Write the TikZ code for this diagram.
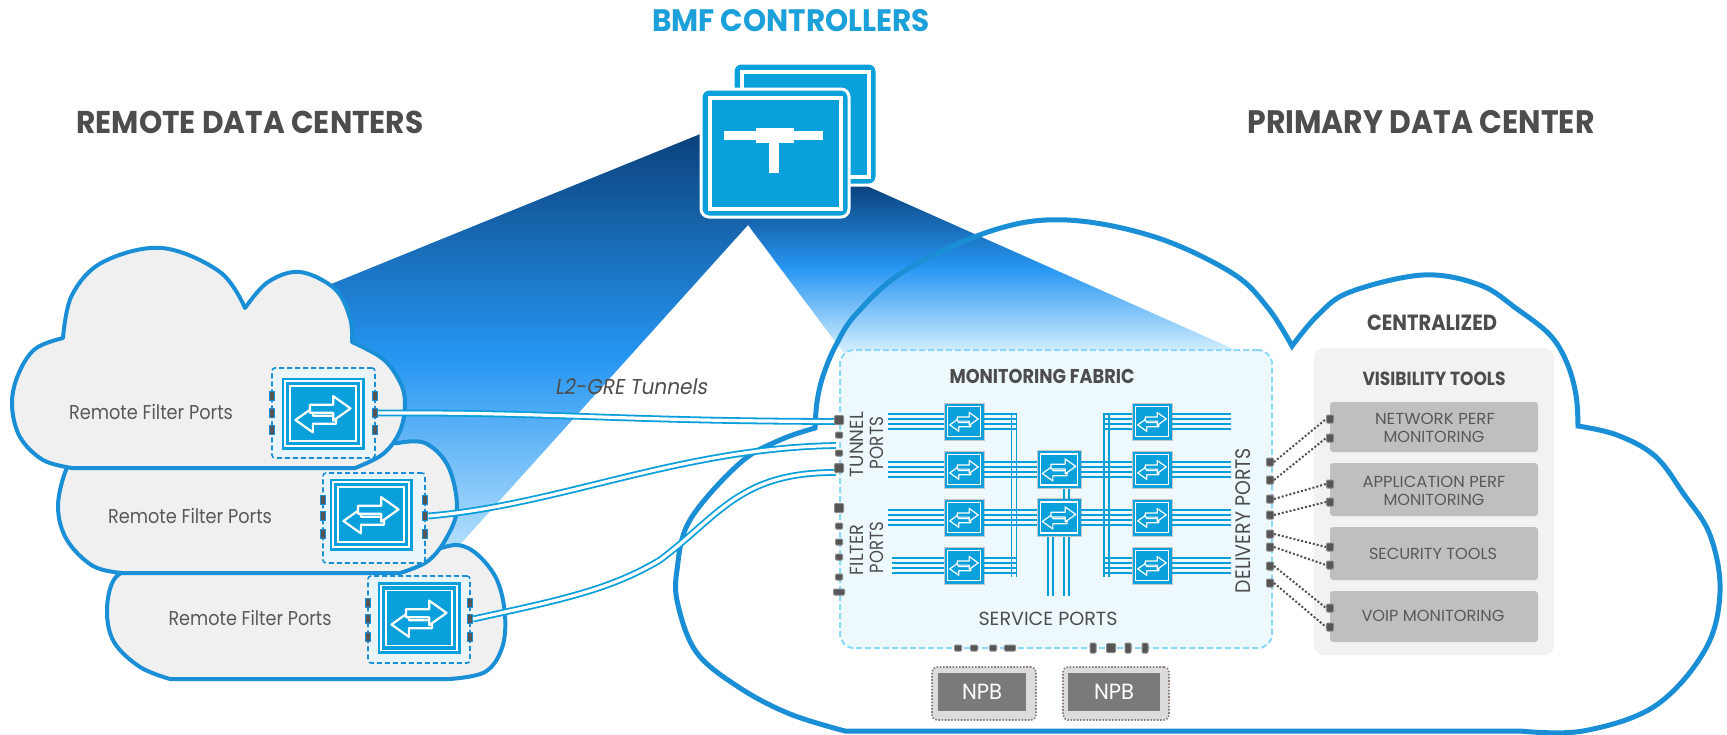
\documentclass[tikz,border=0pt]{standalone}
\usepackage{fontspec}
\setmainfont{Poppins}
\newfontfamily\slfont[FakeSlant=0.18]{Poppins}
\usepackage{graphicx}
\usetikzlibrary{calc}

\definecolor{cblue}{HTML}{1A8FD6}
\definecolor{sblue}{HTML}{0AA0DC}
\definecolor{lblue}{HTML}{0A9FDB}
\definecolor{bmfblue}{HTML}{1CA0DA}
\definecolor{headtxt}{HTML}{4D4D4D}
\definecolor{bodytxt}{HTML}{595959}
\definecolor{rfill}{HTML}{F0F0F0}
\definecolor{dfill}{HTML}{EAF5FB}
\definecolor{fabfill}{HTML}{EEF9FE}
\definecolor{fabline}{HTML}{8CD8F6}
\definecolor{portfill}{HTML}{555555}
\definecolor{portrim}{HTML}{8A8A8A}
\definecolor{panelfill}{HTML}{F2F2F2}
\definecolor{toolfill}{HTML}{BFBFBF}
\definecolor{npbin}{HTML}{7A7A7A}
\definecolor{npbout}{HTML}{DCDCDC}
\definecolor{npbdot}{HTML}{8C7E76}
\definecolor{dotline}{HTML}{505050}
\definecolor{beamtop}{HTML}{0A3F78}
\definecolor{beammid}{HTML}{2696F2}
\definecolor{beambot}{HTML}{D4EFFF}
\definecolor{swrim}{HTML}{C8C8C8}

% set a text at a given size, stretched or squeezed to a given width
\newsavebox\fitbx
\newlength\fitlen
\newcommand\fitto[3]{%
  \sbox\fitbx{\fontsize{#2}{#2}\selectfont #3}%
  \fitlen=\wd\fitbx
  \pgfmathsetmacro\fitsx{#1/\fitlen}%
  \scalebox{\fitsx}[1]{\usebox\fitbx}}

\tikzset{
  pics/arrowpair/.style={code={
    % lower arrow, pointing left
    \draw[white, fill=sblue, line join=round] (9,1.5) -- (-7,1.5) -- (-7,-4) -- (-19,4.5) -- (-7,13) -- (-7,7) -- (9,7) -- cycle;
    % upper arrow, pointing right
    \draw[white, fill=sblue, line join=round] (-9,-6) -- (7,-6) -- (7,-12) -- (19,-3.5) -- (7,5) -- (7,-0.5) -- (-9,-0.5) -- cycle;
  }},
  cloudR/.style={fill=rfill, draw=cblue, line width=4pt, line join=round},
  bigcloud/.style={draw=cblue, line width=5pt, line join=miter},
  swbox/.style={rectangle, fill=sblue, draw=swrim, line width=0.8pt, inner sep=0pt, outer sep=0pt},
  rsw/.style={rectangle, fill=sblue, draw=sblue, line width=0.8pt, inner sep=0pt, outer sep=0pt},
  dashbox/.style={rectangle, rounded corners=3pt, fill=dfill, draw=cblue, dash pattern=on 5pt off 3pt, line width=1.6pt, inner sep=0pt},
  rport/.style={rectangle, minimum width=5pt, minimum height=9pt, fill=portfill, draw=cblue, line width=1.2pt, inner sep=0pt},
  pbig/.style={rectangle, minimum width=9pt, minimum height=9pt, fill=portfill, draw=portrim, line width=1pt, rounded corners=1pt, inner sep=0pt},
  psmall/.style={rectangle, minimum width=7pt, minimum height=6pt, fill=portfill, draw=portrim, line width=1pt, rounded corners=1pt, inner sep=0pt},
  pwide/.style={rectangle, minimum width=11pt, minimum height=6pt, fill=portfill, draw=portrim, line width=1pt, rounded corners=1pt, inner sep=0pt},
  ptall/.style={rectangle, minimum width=6pt, minimum height=10pt, fill=portfill, draw=portrim, line width=1pt, rounded corners=1pt, inner sep=0pt},
  dport/.style={rectangle, minimum width=7pt, minimum height=8pt, fill=portfill, draw=portrim, line width=1pt, rounded corners=1pt, inner sep=0pt},
  fl/.style={draw=lblue, line width=1.8pt},
  tunnel/.style={draw=lblue, line width=1.8pt, double=white, double distance=3.2pt},
  lbl/.style={inner sep=0pt, outer sep=0pt, text=headtxt},
  body/.style={inner sep=0pt, outer sep=0pt, text=bodytxt},
  dotcon/.style={draw=dotline, line width=2pt, dash pattern=on 2pt off 2pt},
  fabric/.style={rectangle, rounded corners=14pt, fill=fabfill, draw=fabline, line width=2pt, dash pattern=on 6pt off 3pt},
  ctrl/.style={rectangle, rounded corners=8pt, fill=sblue, draw=white, line width=3pt, inner sep=0pt},
  panelbox/.style={rectangle, rounded corners=10pt, fill=panelfill, inner sep=0pt},
  toolbox/.style={rectangle, rounded corners=3pt, fill=toolfill, minimum width=208pt, inner sep=0pt},
  npbouter/.style={rectangle, rounded corners=5pt, fill=npbout, draw=npbdot, line width=1.6pt, dash pattern=on 1.6pt off 1.6pt, inner sep=0pt},
  npbinner/.style={rectangle, fill=npbin, inner sep=0pt, text=white},
}

% switch of the remote sites
\newcommand\rswitch[3]{%
  \node[rsw, minimum width=82pt, minimum height=71pt] (#1) at (#2,#3) {};
  \draw[white, line width=1.3pt] ([shift={(3,3)}]#1.north west) rectangle ([shift={(-3,-3)}]#1.south east);
  \draw[white, line width=1.3pt] ([shift={(8,8)}]#1.north west) rectangle ([shift={(-8,-8)}]#1.south east);
  \pic[scale=1.45, line width=2.2pt] at (#1) {arrowpair};}

% switch of the monitoring fabric
\newcommand\fswitch[6]{%
  \node[swbox, minimum width=#4pt, minimum height=#5pt] (#1) at (#2,#3) {};
  \draw[white, line width=1.1pt] ([shift={(3.5,3.5)}]#1.north west) rectangle ([shift={(-3.5,-3.5)}]#1.south east);
  \pic[scale=#6, line width=1.2pt] at (#1) {arrowpair};}

\begin{document}
\begin{tikzpicture}[x=1pt, y=-1pt]
\useasboundingbox (0,0) rectangle (1727,734);
\fill[white] (0,0) rectangle (1727,734);

% ---------- light beams from the controllers ----------
\shade[top color=beamtop, bottom color=beambot, middle color=beammid]
  (720,126) -- (250,317) -- (250,590) -- (419,590) -- (748,225) -- (770,190) -- cycle;
\shade[top color=beamtop, bottom color=beambot, middle color=beammid]
  (760,200) -- (748,225) -- (843,352) -- (1240,352) -- (860,183) -- cycle;

% ---------- primary data center cloud ----------
\draw[bigcloud]
  plot[smooth, tension=0.6] coordinates {(815,428) (817,402) (823,376) (836,345) (857,313) (906,270) (994,230) (1067,220) (1155,237) (1232,273) (1268,308) (1292,346)}
  -- plot[smooth, tension=0.6] coordinates {(1292,346) (1318,315) (1350,292) (1423,275) (1480,285) (1517,309) (1550,335) (1567,363) (1576,395) (1578,426)}
  -- plot[smooth, tension=0.6] coordinates {(1578,426) (1617,435) (1655,456) (1683,493) (1710,535) (1720,592) (1705,650) (1655,706) (1583,731) (1520,731)}
  -- (845,731)
  -- plot[smooth, tension=0.6] coordinates {(845,731) (790,714) (740,688) (697,653) (678,605) (677,570) (690,520) (740,463) (780,440) (815,428)}
  -- cycle;

% ---------- remote data center clouds ----------
\path[cloudR]
  plot[smooth, tension=0.6] coordinates {(140,565) (115,578) (107,610) (114,642) (140,667) (170,679)}
  -- (450,679)
  -- plot[smooth, tension=0.6] coordinates {(450,679) (485,672) (502,648) (505,615) (497,580) (478,555) (458,545) (435,550)}
  -- cycle;
\path[cloudR]
  plot[smooth, tension=0.6] coordinates {(80,452) (66,470) (58,507) (67,540) (93,566) (122,573)}
  -- (400,573)
  -- plot[smooth, tension=0.6] coordinates {(400,573) (428,561) (447,537) (457,507) (448,466) (425,443) (398,443)}
  -- cycle;
\path[cloudR]
  plot[smooth, tension=0.6] coordinates {(63,338) (35,349) (18,375) (12,405) (20,437) (43,460) (72,468)}
  -- (355,468)
  -- plot[smooth, tension=0.6] coordinates {(355,468) (383,454) (400,431) (405,403) (400,382) (383,359) (352,342)}
  -- plot[smooth, tension=0.6] coordinates {(352,342) (350,318) (335,289) (300,272) (268,282) (245,308)}
  -- plot[smooth, tension=0.6] coordinates {(245,308) (220,272) (162,248) (103,262) (72,295) (63,338)}
  -- cycle;

% remote filter switches
\node[dashbox, minimum width=103pt, minimum height=90pt] (db1) at (323.5,413) {};
\node[dashbox, minimum width=102pt, minimum height=90pt] (db2) at (374,518) {};
\node[dashbox, minimum width=102pt, minimum height=87pt] (db3) at (419,619.5) {};
\rswitch{sw1}{323}{413.5}
\rswitch{sw2}{371}{514.5}
\rswitch{sw3}{419}{618}
\foreach \k/\y in {1/396, 2/413, 3/430} {
  \node[rport] (r1l\k) at (272,\y) {};
  \node[rport] (r1r\k) at (375,\y) {};}
\foreach \k/\y in {1/500, 2/516, 3/534} {
  \node[rport] (r2l\k) at (323,\y) {};
  \node[rport] (r2r\k) at (425,\y) {};}
\foreach \k/\y in {1/603, 2/619, 3/637} {
  \node[rport] (r3l\k) at (368,\y) {};
  \node[rport] (r3r\k) at (470,\y) {};}

\node[body] (rt1) at (151,412) {\fitto{164}{20}{Remote Filter Ports}};
\node[body] (rt2) at (190,516) {\fitto{164}{20}{Remote Filter Ports}};
\node[body] (rt3) at (250,618) {\fitto{163}{20}{Remote Filter Ports}};

% ---------- monitoring fabric ----------
\node[fabric, minimum width=432pt, minimum height=298pt] (fab) at (1056,499) {};

% L2-GRE tunnels
\coordinate (t2end) at (836,445.5);
\coordinate (t3end) at (836,472.5);
\draw[tunnel] (r1r2.east) .. controls (550,412) and (620,421) .. (836,421.5);
\draw[tunnel] (r2r2.east) .. controls (560,505) and (680,448) .. (t2end);
\draw[tunnel] (r3r2.east) .. controls (560,600) and (610,590) .. (660,560) .. controls (720,515) and (740,472) .. (t3end);
\node[inner sep=0pt, text=headtxt] (gre) at (631,387) {\fitto{152}{21.5}{\slfont L2-GRE Tunnels}};

% fabric switches
\fswitch{L1}{964}{421.5}{40}{37}{0.75}
\fswitch{L2}{964}{469.5}{40}{37}{0.75}
\fswitch{L3}{964}{517.5}{40}{37}{0.75}
\fswitch{L4}{964}{565.5}{40}{37}{0.75}
\fswitch{M2}{1059}{469.5}{44}{38}{0.88}
\fswitch{M3}{1059}{517.5}{44}{38}{0.88}
\fswitch{R1}{1152}{421.5}{40}{37}{0.75}
\fswitch{R2}{1152}{469.5}{40}{37}{0.75}
\fswitch{R3}{1152}{517.5}{40}{37}{0.75}
\fswitch{R4}{1152}{565.5}{40}{37}{0.75}

% link bundles
\coordinate (lbusA) at (1011.5,414);
\coordinate (lbusB) at (1011.5,577);
\coordinate (rbusA) at (1104,414);
\coordinate (rbusB) at (1104,577);
\foreach \dx in {0,5} {
  \draw[fl] ([xshift=\dx pt]lbusA) -- ([xshift=\dx pt]lbusB);
  \draw[fl] ([xshift=\dx pt]rbusA) -- ([xshift=\dx pt]rbusB);}
\foreach \o in {-7.5,-2.5,2.5,7.5} {
  \draw[fl] ([yshift=\o pt]L1.west) -- ++(-56,0);
  \draw[fl] ([yshift=\o pt]L2.west) -- ++(-56,0);
  \draw[fl] ([yshift=\o pt]L3.west) -- ++(-56,0);
  \draw[fl] ([yshift=\o pt]L4.west) -- ++(-52,0);
  \draw[fl] ([yshift=\o pt]L1.east) -- ++(33,0);
  \draw[fl] ([yshift=\o pt]L4.east) -- ++(33,0);
  \draw[fl] ([yshift=\o pt]L2.east) -- ([yshift=\o pt]M2.west);
  \draw[fl] ([yshift=\o pt]L3.east) -- ([yshift=\o pt]M3.west);
  \draw[fl] ([yshift=\o pt]M2.east) -- ([yshift=\o pt]R2.west);
  \draw[fl] ([yshift=\o pt]M3.east) -- ([yshift=\o pt]R3.west);
  \draw[fl] ([yshift=\o pt]R1.west) -- ++(-29,0);
  \draw[fl] ([yshift=\o pt]R4.west) -- ++(-29,0);
  \draw[fl] ([yshift=\o pt]R1.east) -- ++(59,0);
  \draw[fl] ([yshift=\o pt]R2.east) -- ++(59,0);
  \draw[fl] ([yshift=\o pt]R3.east) -- ++(59,0);
  \draw[fl] ([yshift=\o pt]R4.east) -- ++(59,0);}
\foreach \dx in {5,10} \draw[fl] ([xshift=\dx pt]M2.south) -- ([xshift=\dx pt]M3.north);
\foreach \dx in {-11,-6,5,10} \draw[fl] ([xshift=\dx pt]M3.south) -- ++(0,59);

% fabric ports
\foreach \n/\y/\s in {tp1/420/pbig, tp2/435/psmall, tp3/453/psmall, tp4/468/pbig,
    fp1/508/pbig, fp2/526/psmall, fp3/542/psmall, fp4/557/psmall, fp5/577/psmall, fp6/592/pwide}
  \node[\s] (\n) at (839,\y) {};
\foreach \n/\x/\s in {sp1/958/psmall, sp2/974/psmall, sp3/993/psmall, sp4/1010/pwide,
    sp5/1093/ptall, sp6/1111/pbig, sp7/1128/ptall, sp8/1145/ptall}
  \node[\s] (\n) at (\x,648) {};

% fabric labels
\node[lbl] (fabt) at (1042,376) {\fitto{185}{20}{\bfseries MONITORING FABRIC}};
\node[lbl, rotate=90] (tunA) at (857,444.5) {\fitto{65}{19}{TUNNEL}};
\node[lbl, rotate=90] (tunB) at (877,443) {\fitto{52}{19}{PORTS}};
\node[lbl, rotate=90] (filA) at (857,550) {\fitto{50}{19}{FILTER}};
\node[lbl, rotate=90] (filB) at (877,547.5) {\fitto{51}{19}{PORTS}};
\node[lbl, rotate=90] (delv) at (1243,520.5) {\fitto{145}{21}{DELIVERY PORTS}};
\node[lbl] (serv) at (1048,619) {\fitto{139}{19}{SERVICE PORTS}};

% packet brokers below the service ports
\node[npbouter, minimum width=104pt, minimum height=53pt] (npb1o) at (984,693.5) {};
\node[npbinner, minimum width=88pt, minimum height=38pt] (npb1) at (982,692) {\fitto{40}{22}{NPB}};
\node[npbouter, minimum width=106pt, minimum height=53pt] (npb2o) at (1116,693.5) {};
\node[npbinner, minimum width=92pt, minimum height=38pt] (npb2) at (1114,692) {\fitto{40}{22}{NPB}};

% ---------- centralized visibility tools ----------
\node[lbl] (cent) at (1432,323) {\fitto{130}{22}{\bfseries CENTRALIZED}};
\node[panelbox, minimum width=240pt, minimum height=307pt] (vpanel) at (1434,501.5) {};
\node[lbl] (vist) at (1434,379) {\fitto{143}{19}{\bfseries VISIBILITY TOOLS}};
\node[toolbox, minimum height=50pt] (tb1) at (1434,427) {};
\node[toolbox, minimum height=53pt] (tb2) at (1434,489.5) {};
\node[toolbox, minimum height=53pt] (tb3) at (1434,553.5) {};
\node[toolbox, minimum height=51pt] (tb4) at (1434,616.5) {};
\node[body] (tt1a) at (1435,419) {\fitto{120}{16}{NETWORK PERF}};
\node[body] (tt1b) at (1434,437) {\fitto{101}{16}{MONITORING}};
\node[body] (tt2a) at (1434,482) {\fitto{143}{16}{APPLICATION PERF}};
\node[body] (tt2b) at (1434,500) {\fitto{101}{16}{MONITORING}};
\node[body] (tt3) at (1433,554) {\fitto{128}{16}{SECURITY TOOLS}};
\node[body] (tt4) at (1433,616) {\fitto{143}{16}{VOIP MONITORING}};

\foreach \i/\y in {1/462, 2/480, 3/499, 4/515, 5/534, 6/547, 7/566, 8/583}
  \node[dport] (dp\i) at (1270,\y) {};
\foreach \i/\y in {1/419, 2/438, 3/484, 4/502, 5/547, 6/565, 7/608, 8/627}
  \node[dport] (op\i) at (1330,\y) {};
\foreach \i in {1,...,8}
  \draw[dotcon] (dp\i.east) -- (op\i.west);

% ---------- BMF controllers ----------
\node[ctrl, minimum width=144pt, minimum height=122pt] (ctrlB) at (805,124) {};
\draw[white, line width=4pt] ([shift={(10,10)}]ctrlB.north west) rectangle ([shift={(-10,-10)}]ctrlB.south east);
\node[ctrl, minimum width=148pt, minimum height=128pt] (ctrlF) at (775,153) {};
\draw[white, line width=4pt] ([shift={(10,10)}]ctrlF.north west) rectangle ([shift={(-10,-10)}]ctrlF.south east);
\fill[white] (724,131) rectangle (823,140);
\fill[white] (756,128) rectangle (794,143);
\fill[white] (769,131) rectangle (779,173);

% ---------- headings ----------
\node[inner sep=0pt, text=bmfblue] (bmf) at (791,21) {\fitto{278}{31}{\bfseries BMF CONTROLLERS}};
\node[lbl] (remh) at (250,122) {\fitto{347}{31.5}{\bfseries REMOTE DATA CENTERS}};
\node[lbl] (primh) at (1421,122) {\fitto{347}{32.5}{\bfseries PRIMARY DATA CENTER}};
\end{tikzpicture}
\end{document}
